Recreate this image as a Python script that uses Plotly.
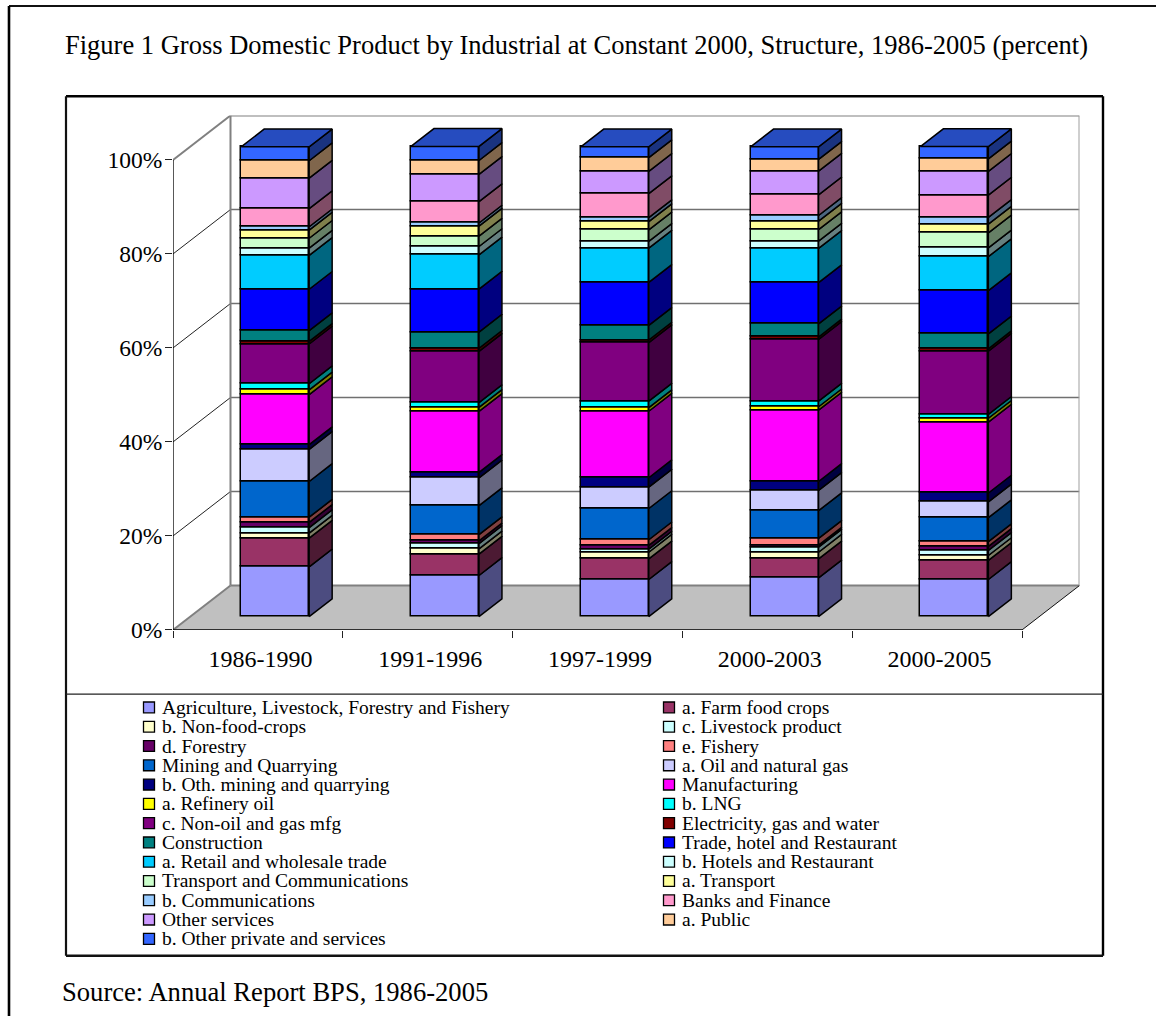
import numpy as np
import plotly.graph_objects as go

periods = ["1986-1990", "1991-1996", "1997-1999", "2000-2003", "2000-2005"]
y_ticks = [0, 20, 40, 60, 80, 100]
y_tick_labels = ["0%", "20%", "40%", "60%", "80%", "100%"]

agriculture = [10.6, 8.75, 7.9, 8.25, 7.9]
farm_food = [6.1, 4.55, 4.4, 4.05, 4.05]
non_food = [1.05, 1.1, 1.4, 1.4, 1.05]
livestock = [1.2, 1.15, 0.65, 1.1, 1.1]
forestry = [1.1, 0.55, 0.8, 0.4, 0.85]
fishery = [1.1, 1.35, 1.2, 1.45, 1.0]
mining = [7.6, 6.15, 6.65, 5.9, 5.1]
oil_gas = [6.85, 5.9, 4.55, 4.3, 3.35]
other_mining = [1.0, 1.2, 2.0, 1.9, 1.9]
manufacturing = [10.65, 12.95, 14.15, 15.2, 15.1]
refinery = [1.0, 0.85, 0.75, 0.7, 0.8]
lng = [1.3, 1.05, 1.4, 1.2, 0.85]
non_oil_mfg = [8.45, 10.9, 12.45, 13.15, 13.45]
electricity = [0.55, 0.65, 0.55, 0.5, 0.5]
construction = [2.3, 3.45, 3.1, 2.8, 3.15]
trade = [8.8, 9.15, 9.15, 8.75, 9.2]
retail = [7.2, 7.25, 7.3, 7.3, 7.25]
hotels = [1.55, 1.8, 1.45, 1.55, 1.85]
transport_comm = [2.1, 2.2, 2.45, 2.45, 3.2]
transport = [1.75, 2.15, 1.75, 1.8, 1.85]
communications = [0.7, 0.65, 0.85, 1.2, 1.45]
banks = [3.85, 4.55, 5.1, 4.4, 4.75]
other_services = [6.5, 5.8, 4.75, 5.05, 5.05]
public = [3.7, 2.95, 2.9, 2.5, 2.65]
other_private = [2.95, 3.0, 2.3, 2.65, 2.6]

series = [
    ("Agriculture, Livestock, Forestry and Fishery", agriculture, "#9999FF"),
    ("a. Farm food crops", farm_food, "#993366"),
    ("b. Non-food-crops", non_food, "#FFFFCC"),
    ("c. Livestock product", livestock, "#CCFFFF"),
    ("d. Forestry", forestry, "#660066"),
    ("e. Fishery", fishery, "#FF8080"),
    ("Mining and Quarrying", mining, "#0066CC"),
    ("a. Oil and natural gas", oil_gas, "#CCCCFF"),
    ("b. Oth. mining and quarrying", other_mining, "#000080"),
    ("Manufacturing", manufacturing, "#FF00FF"),
    ("a. Refinery oil", refinery, "#FFFF00"),
    ("b. LNG", lng, "#00FFFF"),
    ("c. Non-oil and gas mfg", non_oil_mfg, "#800080"),
    ("Electricity, gas and water", electricity, "#800000"),
    ("Construction", construction, "#008080"),
    ("Trade, hotel and Restaurant", trade, "#0000FF"),
    ("a. Retail and wholesale trade", retail, "#00CCFF"),
    ("b. Hotels and Restaurant", hotels, "#CCFFFF"),
    ("Transport and Communications", transport_comm, "#CCFFCC"),
    ("a. Transport", transport, "#FFFF99"),
    ("b. Communications", communications, "#99CCFF"),
    ("Banks and Finance", banks, "#FF99CC"),
    ("Other services", other_services, "#CC99FF"),
    ("a. Public", public, "#FFCC99"),
    ("b. Other private and services", other_private, "#3366FF"),
]

W, H = 1156, 1029
FONT = "Liberation Serif"
PX_X0, PX_Y0 = 173.0, 638.0      # front-left corner of the floor
PX_CAT = 169.8                   # pixels per category
PX_PCT = 4.76                    # pixels per percent
PX_DX, PX_DY = 57.5, 45.0        # oblique depth of the box
DX, DY = PX_DX / PX_CAT, PX_DY / PX_PCT
N = len(periods)
BAR_W = 68 / PX_CAT
D_FRONT, D_BACK = 0.3, 0.7       # bar position in depth


def shade(hex_color, k):
    r, g, b = (int(hex_color[i:i + 2], 16) for i in (1, 3, 5))
    return f"rgb({round(r * k)},{round(g * k)},{round(b * k)})"


def px_to_paper(x, y):
    return x / W, 1 - y / H


fig = go.Figure()
centers = np.arange(N) + 0.5
cum = np.zeros(N)
LW = 1.5
side_traces = []
for name, vals, color in series:
    vals = np.array(vals, dtype=float)
    fig.add_trace(go.Bar(
        x=centers + D_FRONT * DX, y=vals, base=cum + D_FRONT * DY, width=BAR_W,
        name=name, marker=dict(color=color, line=dict(color="black", width=LW)),
        showlegend=False))
    xs, ys = [], []
    for c, lo, v in zip(centers, cum, vals):
        xr = c + BAR_W / 2 + D_FRONT * DX
        ylo = lo + D_FRONT * DY
        d = (D_BACK - D_FRONT)
        xs += [xr, xr + d * DX, xr + d * DX, xr, xr, None]
        ys += [ylo, ylo + d * DY, ylo + v + d * DY, ylo + v, ylo, None]
    side_traces.append(go.Scatter(
        x=xs, y=ys, mode="lines", fill="toself", fillcolor=shade(color, 0.5),
        line=dict(color="black", width=LW), hoverinfo="skip", showlegend=False))
    cum = cum + vals
for t in side_traces:
    fig.add_trace(t)

# top faces of the columns, in the colour of the last series
xs, ys = [], []
for c, top in zip(centers, cum):
    d = D_BACK - D_FRONT
    xl, xr = c - BAR_W / 2 + D_FRONT * DX, c + BAR_W / 2 + D_FRONT * DX
    yt = top + D_FRONT * DY
    xs += [xl, xr, xr + d * DX, xl + d * DX, xl, None]
    ys += [yt, yt, yt + d * DY, yt + d * DY, yt, None]
fig.add_trace(go.Scatter(
    x=xs, y=ys, mode="lines", fill="toself", fillcolor=shade(series[-1][2], 0.75),
    line=dict(color="black", width=LW), hoverinfo="skip", showlegend=False))

# ---- walls, floor and frames
shapes = []


def data_line(x0, y0, x1, y1, color, width):
    shapes.append(dict(type="line", xref="x", yref="y", x0=x0, y0=y0, x1=x1, y1=y1,
                       line=dict(color=color, width=width), layer="below"))


def paper_line(x0, y0, x1, y1, color, width):
    a, b = px_to_paper(x0, y0)
    c, d = px_to_paper(x1, y1)
    shapes.append(dict(type="line", xref="paper", yref="paper", x0=a, y0=b, x1=c, y1=d,
                       line=dict(color=color, width=width), layer="below"))


shapes.append(dict(type="path", xref="x", yref="y", layer="below", line=dict(width=0),
                   fillcolor="#C0C0C0",
                   path=f"M 0 0 L {DX} {DY} L {N + DX} {DY} L {N} 0 Z"))
for t in y_ticks[1:-1]:
    data_line(0, t, DX, t + DY, "#222222", 1)
    data_line(DX, t + DY, N + DX, t + DY, "#707070", 1.3)
data_line(0, 100, DX, 100 + DY, "#808080", 2)
data_line(DX, 100 + DY, N + DX, 100 + DY, "#808080", 2)
data_line(DX, DY, N + DX, DY, "#808080", 2)
data_line(DX, DY, DX, 100 + DY, "#808080", 2)
data_line(N + DX, DY, N + DX, 100 + DY, "#A0A0A0", 2)
data_line(0, 0, DX, DY, "#808080", 2)
data_line(N, 0, N + DX, DY, "#111111", 1)
data_line(0, 0, N, 0, "black", 1.4)
data_line(0, 0, 0, 100, "#111111", 1.4)

# outer page rule and chart frame
paper_line(9, 6, 1156, 6, "#111111", 2)
paper_line(9, 6, 9, 1029, "black", 2.6)
paper_line(66, 97.5, 1103, 97.5, "black", 2.4)
paper_line(66, 97.5, 66, 968, "#111111", 2.2)
paper_line(1103, 97.5, 1103, 968, "black", 2.4)
paper_line(66, 968, 1103, 968, "#111111", 2.4)
paper_line(66, 703, 1103, 703, "#222222", 1.2)

# ---- two-column legend
annotations = []
ROW0, ROW_STEP = 716.5, 19.53
for i, (name, _, color) in enumerate(series):
    col, row = i % 2, i // 2
    x_sq = 143.5 if col == 0 else 663.5
    yc = ROW0 + row * ROW_STEP
    a, b = px_to_paper(x_sq, yc - 5.5)
    c, d = px_to_paper(x_sq + 11, yc + 5.5)
    shapes.append(dict(type="rect", xref="paper", yref="paper", x0=a, y0=b, x1=c, y1=d,
                       fillcolor=color, line=dict(color="black", width=1.3)))
    tx, ty = px_to_paper(x_sq + 16.5, yc)
    annotations.append(dict(text=name, xref="paper", yref="paper", x=tx, y=ty,
                            xanchor="left", yanchor="middle", showarrow=False,
                            font=dict(family=FONT, size=19.5, color="black")))

tx, ty = px_to_paper(60, 1005)
annotations.append(dict(text="Source: Annual Report BPS, 1986-2005", xref="paper", yref="paper",
                        x=tx, y=ty, xanchor="left", yanchor="middle", showarrow=False,
                        font=dict(family=FONT, size=26.6, color="black")))

fig.update_layout(
    width=W, height=H, autosize=False, margin=dict(l=0, r=0, t=0, b=0),
    paper_bgcolor="white", plot_bgcolor="rgba(0,0,0,0)",
    barmode="overlay", showlegend=False, bargap=0,
    shapes=shapes, annotations=annotations,
    title=dict(text="Figure 1 Gross Domestic Product by Industrial at Constant 2000, Structure, 1986-2005 (percent)",
               x=65 / W, xanchor="left", xref="paper", y=1 - 45 / H, yanchor="middle", yref="paper",
               font=dict(family=FONT, size=26.5, color="black")),
    xaxis=dict(domain=[PX_X0 / W, (PX_X0 + N * PX_CAT + PX_DX) / W], range=[0, N + DX],
               showgrid=False, zeroline=False, showline=False,
               tickmode="array", tickvals=list(centers + 2.5 / PX_CAT), ticktext=periods,
               ticks="", ticklabelstandoff=12,
               tickfont=dict(family=FONT, size=24, color="black"),
               minor=dict(tickmode="array", tickvals=list(range(N + 1)), ticks="outside",
                          ticklen=7, tickcolor="#222222", tickwidth=1.2, showgrid=False)),
    yaxis=dict(domain=[1 - PX_Y0 / H, 1 - (PX_Y0 - (100 * PX_PCT + PX_DY)) / H], range=[0, 100 + DY],
               showgrid=False, zeroline=False, showline=False,
               tickmode="array", tickvals=y_ticks, ticktext=y_tick_labels,
               ticks="outside", ticklen=7, tickcolor="#222222", tickwidth=1.2, ticklabelstandoff=-2,
               tickfont=dict(family=FONT, size=23.5, color="black")),
)

fig.write_html("out.html", config={"displayModeBar": False},
               post_script="document.body.style.margin='0';")
